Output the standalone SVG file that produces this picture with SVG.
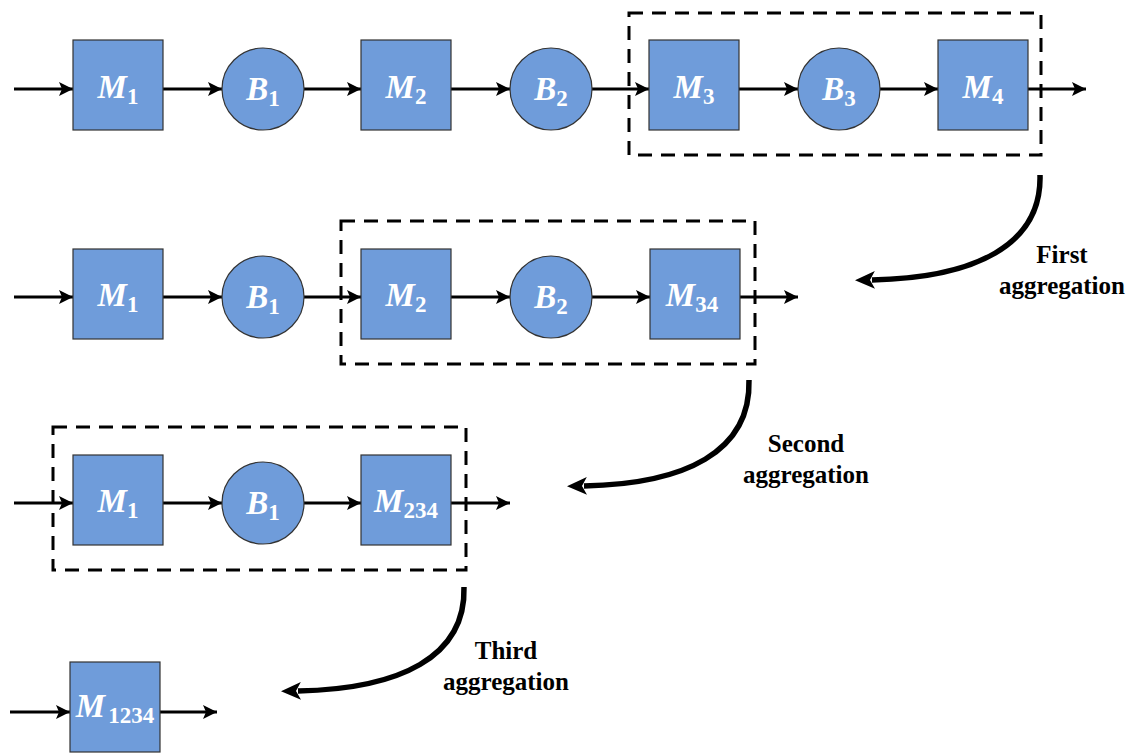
<svg xmlns="http://www.w3.org/2000/svg" width="1133" height="753" viewBox="0 0 1133 753">
<defs>
<style>
.box{fill:#6f9cda;stroke:#333;stroke-width:1.2}
.lbl{font-weight:700;font-style:italic;font-size:33px;fill:#fff}
.sub{font-style:normal;font-size:23px}
.conn{stroke:#000;stroke-width:3;fill:none;marker-end:url(#ah)}
.dash{fill:none;stroke:#000;stroke-width:3;stroke-dasharray:14 9}
.agg{stroke:#000;stroke-width:5.5;fill:none;marker-end:url(#big)}
.cap{font-weight:700;font-size:25px;fill:#000;text-anchor:middle}
</style>
<marker id="ah" viewBox="0 0 14 14" refX="14" refY="7" markerWidth="14" markerHeight="14" markerUnits="userSpaceOnUse" orient="auto">
<path d="M0,0 L14,7 L0,14 L3,7 Z" fill="#000"/>
</marker>
<marker id="big" viewBox="0 0 20 20" refX="3" refY="10" markerWidth="20" markerHeight="20" markerUnits="userSpaceOnUse" orient="auto">
<path d="M20,10 L0,1 L5,10 L0,19 Z" fill="#000"/>
</marker>
</defs>

<g id="groups">
<rect id="grp1" class="dash" x="629" y="13" width="412" height="142"/>
<rect id="grp2" class="dash" x="341" y="221" width="414" height="143"/>
<rect id="grp3" class="dash" x="53" y="427" width="413" height="143"/>
</g>

<g id="connectors">
<line class="conn" x1="14" y1="89" x2="73" y2="89"/>
<line class="conn" x1="163" y1="89" x2="222" y2="89"/>
<line class="conn" x1="304" y1="89" x2="361" y2="89"/>
<line class="conn" x1="451" y1="89" x2="510" y2="89"/>
<line class="conn" x1="592" y1="89" x2="649" y2="89"/>
<line class="conn" x1="739" y1="89" x2="798" y2="89"/>
<line class="conn" x1="880" y1="89" x2="938" y2="89"/>
<line class="conn" x1="1028" y1="89" x2="1086" y2="89"/>

<line class="conn" x1="14" y1="297" x2="73" y2="297"/>
<line class="conn" x1="163" y1="297" x2="222" y2="297"/>
<line class="conn" x1="304" y1="297" x2="361" y2="297"/>
<line class="conn" x1="451" y1="297" x2="510" y2="297"/>
<line class="conn" x1="592" y1="297" x2="650" y2="297"/>
<line class="conn" x1="740" y1="297" x2="798" y2="297"/>

<line class="conn" x1="14" y1="503" x2="73" y2="503"/>
<line class="conn" x1="163" y1="503" x2="222" y2="503"/>
<line class="conn" x1="304" y1="503" x2="361" y2="503"/>
<line class="conn" x1="451" y1="503" x2="510" y2="503"/>

<line class="conn" x1="10" y1="712" x2="70" y2="712"/>
<line class="conn" x1="160" y1="712" x2="217" y2="712"/>

<path class="agg" d="M1040,175 C1042,245 975,278 872,280"/>
<path class="agg" d="M749,380 C751,452 685,484 584,486"/>
<path class="agg" d="M464,587 C466,657 400,689 298,691"/>
</g>

<g id="labels" font-family="Liberation Serif, Times New Roman, serif">
<text class="cap" font-family="Liberation Serif, serif" x="1062" y="263">First</text>
<text class="cap" font-family="Liberation Serif, serif" x="1062" y="294">aggregation</text>
<text class="cap" font-family="Liberation Serif, serif" x="806" y="452">Second</text>
<text class="cap" font-family="Liberation Serif, serif" x="806" y="483">aggregation</text>
<text class="cap" font-family="Liberation Serif, serif" x="506" y="659">Third</text>
<text class="cap" font-family="Liberation Serif, serif" x="506" y="690">aggregation</text>
</g>

<g id="r1_M1"><rect class="box" x="73" y="40" width="90" height="90"/><text class="lbl" font-family="Liberation Serif, serif" x="118" y="98" text-anchor="middle">M<tspan class="sub" dy="6">1</tspan></text></g>
<g id="r1_B1"><circle class="box" cx="263" cy="89" r="41"/><text class="lbl" font-family="Liberation Serif, serif" x="263" y="100" text-anchor="middle">B<tspan class="sub" dy="6">1</tspan></text></g>
<g id="r1_M2"><rect class="box" x="361" y="40" width="90" height="90"/><text class="lbl" font-family="Liberation Serif, serif" x="406" y="98" text-anchor="middle">M<tspan class="sub" dy="6">2</tspan></text></g>
<g id="r1_B2"><circle class="box" cx="551" cy="89" r="41"/><text class="lbl" font-family="Liberation Serif, serif" x="551" y="100" text-anchor="middle">B<tspan class="sub" dy="6">2</tspan></text></g>
<g id="r1_M3"><rect class="box" x="649" y="40" width="90" height="90"/><text class="lbl" font-family="Liberation Serif, serif" x="694" y="98" text-anchor="middle">M<tspan class="sub" dy="6">3</tspan></text></g>
<g id="r1_B3"><circle class="box" cx="839" cy="89" r="41"/><text class="lbl" font-family="Liberation Serif, serif" x="839" y="100" text-anchor="middle">B<tspan class="sub" dy="6">3</tspan></text></g>
<g id="r1_M4"><rect class="box" x="938" y="40" width="90" height="90"/><text class="lbl" font-family="Liberation Serif, serif" x="983" y="98" text-anchor="middle">M<tspan class="sub" dy="6">4</tspan></text></g>

<g id="r2_M1"><rect class="box" x="73" y="249" width="90" height="90"/><text class="lbl" font-family="Liberation Serif, serif" x="118" y="306" text-anchor="middle">M<tspan class="sub" dy="6">1</tspan></text></g>
<g id="r2_B1"><circle class="box" cx="263" cy="297" r="41"/><text class="lbl" font-family="Liberation Serif, serif" x="263" y="308" text-anchor="middle">B<tspan class="sub" dy="6">1</tspan></text></g>
<g id="r2_M2"><rect class="box" x="361" y="249" width="90" height="90"/><text class="lbl" font-family="Liberation Serif, serif" x="406" y="306" text-anchor="middle">M<tspan class="sub" dy="6">2</tspan></text></g>
<g id="r2_B2"><circle class="box" cx="551" cy="297" r="41"/><text class="lbl" font-family="Liberation Serif, serif" x="551" y="308" text-anchor="middle">B<tspan class="sub" dy="6">2</tspan></text></g>
<g id="r2_M34"><rect class="box" x="650" y="249" width="90" height="90"/><text class="lbl" font-family="Liberation Serif, serif" x="692" y="306" text-anchor="middle">M<tspan class="sub" dy="6">34</tspan></text></g>

<g id="r3_M1"><rect class="box" x="73" y="455" width="90" height="90"/><text class="lbl" font-family="Liberation Serif, serif" x="118" y="512" text-anchor="middle">M<tspan class="sub" dy="6">1</tspan></text></g>
<g id="r3_B1"><circle class="box" cx="263" cy="503" r="41"/><text class="lbl" font-family="Liberation Serif, serif" x="263" y="514" text-anchor="middle">B<tspan class="sub" dy="6">1</tspan></text></g>
<g id="r3_M234"><rect class="box" x="361" y="455" width="90" height="90"/><text class="lbl" font-family="Liberation Serif, serif" x="406" y="512" text-anchor="middle">M<tspan class="sub" dy="6">234</tspan></text></g>

<g id="r4_M1234"><rect class="box" x="70" y="662" width="90" height="90"/><text class="lbl" font-family="Liberation Serif, serif" x="115" y="717" text-anchor="middle">M<tspan class="sub" dy="6" dx="3">1234</tspan></text></g>
</svg>
